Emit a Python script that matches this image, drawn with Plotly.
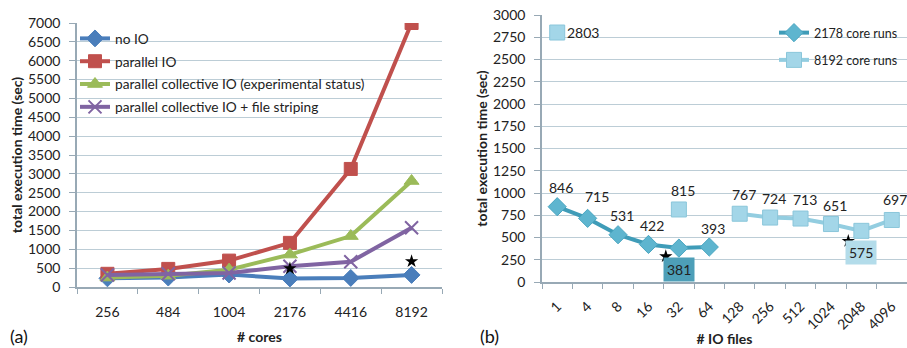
import plotly.graph_objects as go

# ---------------- data ----------------
cores = ["256", "484", "1004", "2176", "4416", "8192"]
no_io = [230, 250, 330, 225, 240, 320]
parallel_io = [350, 480, 700, 1170, 3130, 7000]
collective_io = [250, 300, 460, 860, 1350, 2810]
collective_striping = [320, 350, 370, 550, 670, 1570]
stars_a_x = [3, 5]
stars_a_y = [490, 680]

io_files = ["1", "4", "8", "16", "32", "64", "128", "256", "512", "1024", "2048", "4096"]
runs_2178 = [846, 715, 531, 422, 381, 393, None, None, None, None, None, None]
runs_8192 = [2803, None, None, None, 815, None, 767, 724, 713, 651, 575, 697]
stars_b_x = [3.57, 9.57]
stars_b_y = [288, 460]

ticks_a = [0, 500, 1000, 1500, 2000, 2500, 3000, 3500, 4000, 4500, 5000, 5500, 6000, 6500, 7000]
ticks_b = [0, 250, 500, 750, 1000, 1250, 1500, 1750, 2000, 2250, 2500, 2750, 3000]

FONT = "Lato"
GRID = "#bccdd6"
AXIS = "#98a9b5"
W, H = 907, 348


def px(x):
    return x / W


def py(y):
    return 1 - y / H


fig = go.Figure()

# ---------------- panel (a) ----------------
xa = list(range(len(cores)))
series_a = [
    ("no IO", no_io, "#4a7ebb", "diamond", 13),
    ("parallel IO", parallel_io, "#c0504d", "square", 13),
    ("parallel collective IO (experimental status)", collective_io, "#9bbb59", "triangle-up", 13),
    ("parallel collective IO + file striping", collective_striping, "#8064a2", "x-thin-open", 13),
]
for k, (name, vals, col, sym, sz) in enumerate(series_a):
    mk = dict(symbol=sym, size=sz, color=col, line=dict(color=col, width=2 if sym.startswith("x") else 1))
    fig.add_trace(go.Scatter(x=xa, y=vals, name=name, mode="lines+markers",
                             line=dict(color=col, width=4), marker=mk,
                             legendgroup="a%d" % k,
                             xaxis="x", yaxis="y", legend="legend"))
fig.add_trace(go.Scatter(x=stars_a_x, y=stars_a_y, mode="markers", showlegend=False,
                         marker=dict(symbol="star", size=10, color="black"),
                         xaxis="x", yaxis="y"))

# ---------------- panel (b) ----------------
xb = list(range(len(io_files)))
fig.add_trace(go.Scatter(x=xb, y=runs_2178, name="2178 core runs", mode="lines+markers",
                         line=dict(color="#3f9cb8", width=4),
                         marker=dict(symbol="diamond", size=14, color="#5eb5cf",
                                     line=dict(color="#4aa6c1", width=1)),
                         legendgroup="b0",
                         connectgaps=False, xaxis="x2", yaxis="y2", legend="legend2"))
fig.add_trace(go.Scatter(x=xb, y=runs_8192, name="8192 core runs", mode="lines+markers",
                         line=dict(color="#93cde0", width=4),
                         marker=dict(symbol="square", size=15, color="#a3d6e8",
                                     line=dict(color="#8ac6da", width=1)),
                         legendgroup="b1",
                         connectgaps=False, xaxis="x2", yaxis="y2", legend="legend2"))
fig.add_trace(go.Scatter(x=stars_b_x, y=stars_b_y, mode="markers", showlegend=False,
                         marker=dict(symbol="star", size=10, color="black"),
                         xaxis="x2", yaxis="y2"))

annotations = []
label_font = dict(family=FONT, size=14, color="#222")
special = {
    (1, 0): dict(xshift=26, yshift=0),
    (0, 1): dict(xshift=9, yshift=22),
    (0, 4): dict(xshift=0, yshift=-21, bgcolor="#4d9fb8"),
    (1, 10): dict(xshift=0, yshift=-22, bgcolor="#b3dcea"),
    (1, 11): dict(xshift=3, yshift=20),
}
for si, vals in enumerate([runs_2178, runs_8192]):
    for i, v in enumerate(vals):
        if v is None:
            continue
        st = dict(xshift=4, yshift=19)
        st.update(special.get((si, i), {}))
        ann = dict(x=i, y=v, xref="x2", yref="y2", text=str(v), showarrow=False,
                   font=label_font, xshift=st["xshift"], yshift=st["yshift"])
        if "bgcolor" in st:
            ann.update(bgcolor=st["bgcolor"], borderpad=3)
        annotations.append(ann)

annotations += [
    dict(x=px(19), y=py(336), xref="paper", yref="paper", text="(a)", showarrow=False,
         xanchor="center", yanchor="middle",
         font=dict(family=FONT, size=18, color="#111")),
    dict(x=px(489), y=py(336), xref="paper", yref="paper", text="(b)", showarrow=False,
         xanchor="center", yanchor="middle",
         font=dict(family=FONT, size=18, color="#111")),
]

# white boxes behind the legends (hide gridlines, keep axis line)
shapes = [
    dict(type="rect", xref="paper", yref="paper", x0=px(78), x1=px(376), y0=py(120), y1=py(26),
         fillcolor="white", line=dict(width=0), layer="between"),
    dict(type="rect", xref="paper", yref="paper", x0=px(785), x1=1, y0=py(72), y1=py(22),
         fillcolor="white", line=dict(width=0), layer="between"),
]

axis_common = dict(showline=True, linecolor=AXIS, linewidth=1.5, zeroline=False, automargin=False,
                   tickfont=dict(family=FONT, size=14, color="#222"))

fig.update_layout(
    width=W, height=H,
    margin=dict(l=0, r=0, t=0, b=0, autoexpand=False),
    paper_bgcolor="white", plot_bgcolor="white",
    font=dict(family=FONT, color="#222"),
    xaxis=dict(domain=[px(77), px(442)], range=[-0.5, len(cores) - 0.5],
               tickvals=xa, ticktext=cores, ticks="", showgrid=False,
               ticklabelstandoff=11,
               minor=dict(tickvals=[i - 0.5 for i in range(len(cores) + 1)], ticks="outside",
                          ticklen=5, tickcolor=AXIS, showgrid=False),
               title=dict(text="<b># cores</b>", font=dict(family=FONT, size=14), standoff=14),
               anchor="y", **axis_common),
    yaxis=dict(domain=[py(287), py(23)], range=[0, 7000],
               tickvals=ticks_a, ticks="outside", ticklen=6, tickcolor=AXIS,
               showgrid=True, gridcolor=GRID, gridwidth=1, ticklabelstandoff=6,
               title=dict(text="<b>total execution time (sec)</b>", font=dict(family=FONT, size=14),
                          standoff=2),
               anchor="x", **axis_common),
    xaxis2=dict(domain=[px(542), 1.0], range=[-0.5, len(io_files) - 0.5],
                tickvals=xb, ticktext=io_files, ticks="", showgrid=False, tickangle=-45,
                ticklabelstandoff=9,
                minor=dict(tickvals=[i - 0.5 for i in range(len(io_files) + 1)], ticks="outside",
                           ticklen=5, tickcolor=AXIS, showgrid=False),
                title=dict(text="<b># IO files</b>", font=dict(family=FONT, size=14), standoff=3),
                anchor="y2", **axis_common),
    yaxis2=dict(domain=[py(282), py(15)], range=[0, 3000],
                tickvals=ticks_b, ticks="outside", ticklen=6, tickcolor=AXIS,
                showgrid=True, gridcolor=GRID, gridwidth=1, ticklabelstandoff=6,
                title=dict(text="<b>total execution time (sec)</b>", font=dict(family=FONT, size=14),
                           standoff=2),
                anchor="x2", **axis_common),
    legend=dict(x=px(75), y=py(23), xanchor="left", yanchor="top",
                bgcolor="rgba(0,0,0,0)", font=dict(family=FONT, size=13.7, color="#222"),
                itemwidth=30, tracegroupgap=2),
    legend2=dict(x=px(774), y=py(18), xanchor="left", yanchor="top",
                 bgcolor="rgba(0,0,0,0)", font=dict(family=FONT, size=12.5, color="#222"),
                 itemwidth=30, tracegroupgap=8),
    shapes=shapes,
    annotations=annotations,
)

fig.write_html("out.html", config={"displayModeBar": False},
               post_script="document.body.style.margin='0px';")
